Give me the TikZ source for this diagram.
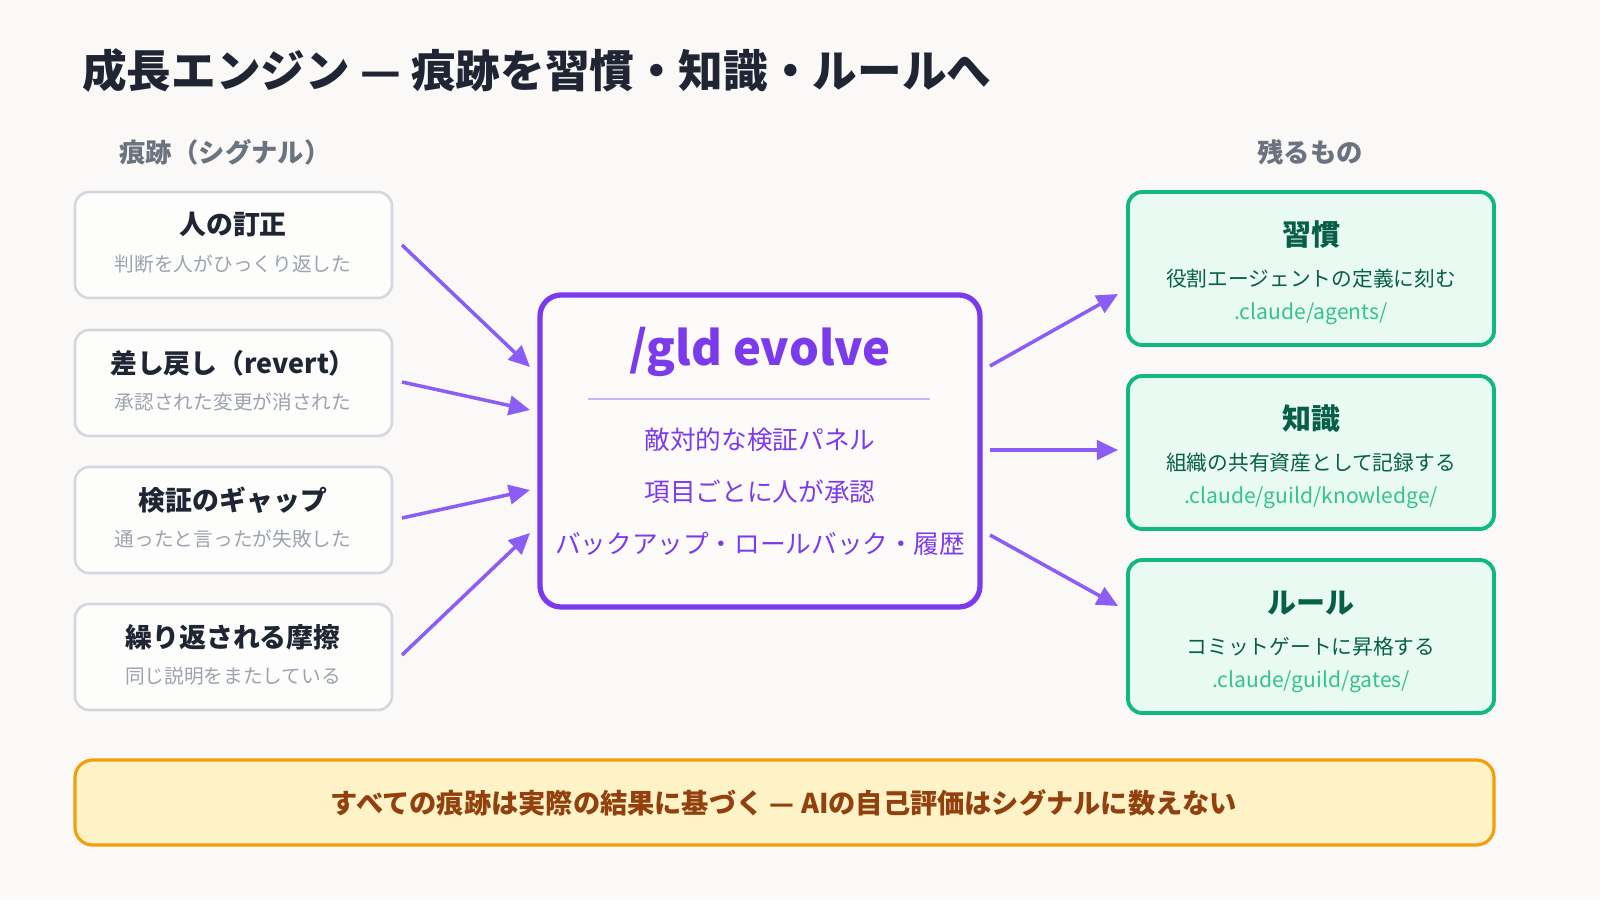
\documentclass[tikz,border=0pt]{standalone}
\usepackage{fontspec}
\setmainfont{Noto Sans CJK JP}
\usetikzlibrary{arrows.meta}
\definecolor{bg}{HTML}{FAF9F7}
\definecolor{navy}{HTML}{1F2533}
\definecolor{gtxt}{HTML}{6B7280}
\definecolor{lgtxt}{HTML}{9CA3AF}
\definecolor{lbord}{HTML}{D4D7DD}
\definecolor{purp}{HTML}{7C3AED}
\definecolor{arr}{HTML}{8B5CF6}
\definecolor{lpurp}{HTML}{C4B5FD}
\definecolor{gfill}{HTML}{E9FAF2}
\definecolor{gbord}{HTML}{10B981}
\definecolor{dgreen}{HTML}{065F46}
\definecolor{pgreen}{HTML}{34C38F}
\definecolor{yfill}{HTML}{FEF3C7}
\definecolor{obord}{HTML}{F59E0B}
\definecolor{brown}{HTML}{92400E}
\tikzset{
 sig/.style={draw=lbord,line width=1.5pt,fill=white!60!bg,rounded corners=8pt},
 res/.style={draw=gbord,line width=2.2pt,fill=gfill,rounded corners=8pt},
 sigt/.style={font=\bfseries\fontsize{15.3}{18}\selectfont,text=navy},
 sigs/.style={font=\fontsize{11.2}{13}\selectfont,text=lgtxt},
 rest/.style={font=\bfseries\fontsize{16.5}{19}\selectfont,text=dgreen},
 ress/.style={font=\fontsize{11.8}{13}\selectfont,text=dgreen},
 resp/.style={font=\fontsize{12}{13}\selectfont,text=pgreen},
 item/.style={font=\fontsize{14.6}{16}\selectfont,text=purp},
 ar/.style={draw=arr,line width=2pt,-{Triangle[length=12pt,width=11pt]}},
}
\begin{document}
\begin{tikzpicture}[x=0.02cm,y=-0.02cm]
\fill[bg] (0,0) rectangle (1600,900);
\useasboundingbox (0,0) rectangle (1600,900);
\node[anchor=west,font=\bfseries\fontsize{25.4}{29}\selectfont,text=navy] (title) at (76,70) {成長エンジン — 痕跡を習慣・知識・ルールへ};
\node[font=\bfseries\fontsize{15}{17}\selectfont,text=gtxt] (lh) at (225,152) {痕跡（シグナル）};
\node[font=\bfseries\fontsize{15}{17}\selectfont,text=gtxt] (rh) at (1310,152) {残るもの};
% left boxes
\foreach \n/\t/\s/\y in {a/人の訂正/判断を人がひっくり返した/192, b/差し戻し（revert）/承認された変更が消された/330, c/検証のギャップ/通ったと言ったが失敗した/467, d/繰り返される摩擦/同じ説明をまたしている/604}{
 \draw[sig] (75,\y) rectangle (392,\y+106);
 \node[sigt] (\n t) at (233,\y+33) {\t};
 \node[sigs] (\n s) at (233,\y+72) {\s};
}
% center
\draw[draw=purp,line width=3pt,fill=white!40!bg,rounded corners=12pt] (540,295) rectangle (980,607);
\node[font=\bfseries\fontsize{26.8}{31}\selectfont,text=purp] (ct) at (760,352) {/gld evolve};
\draw[lpurp,line width=1pt] (588,399) -- (930,399);
\node[item] (i1) at (760,440) {敵対的な検証パネル};
\node[item] (i2) at (760,492) {項目ごとに人が承認};
\node[item] (i3) at (760,544) {バックアップ・ロールバック・履歴};
% right boxes
\foreach \n/\t/\s/\p/\y in {e/習慣/役割エージェントの定義に刻む/{.claude/agents/}/192, f/知識/組織の共有資産として記録する/{.claude/guild/knowledge/}/376, g/ルール/コミットゲートに昇格する/{.claude/guild/gates/}/560}{
 \draw[res] (1128,\y) rectangle (1494,\y+153);
 \node[rest] (\n t) at (1311,\y+43) {\t};
 \node[ress] (\n s) at (1311,\y+87) {\s};
 \node[resp] (\n p) at (1311,\y+122) {\p};
}
% arrows
\coordinate (s1) at (402,245); \coordinate (e1) at (530,367);
\coordinate (s2) at (402,382); \coordinate (e2) at (530,410);
\coordinate (s3) at (402,518); \coordinate (e3) at (530,490);
\coordinate (s4) at (402,655); \coordinate (e4) at (530,533);
\coordinate (s5) at (990,366); \coordinate (e5) at (1118,294);
\coordinate (s6) at (990,450); \coordinate (e6) at (1118,450);
\coordinate (s7) at (990,535); \coordinate (e7) at (1118,606);
\foreach \i in {1,...,7}{\draw[ar] (s\i) -- (e\i);}
% banner
\draw[draw=obord,line width=1.8pt,fill=yfill,rounded corners=10pt] (75,760) rectangle (1494,845);
\node[font=\bfseries\fontsize{15.5}{18}\selectfont,text=brown] (ban) at (784,803) {すべての痕跡は実際の結果に基づく — AIの自己評価はシグナルに数えない};
\end{tikzpicture}
\end{document}
